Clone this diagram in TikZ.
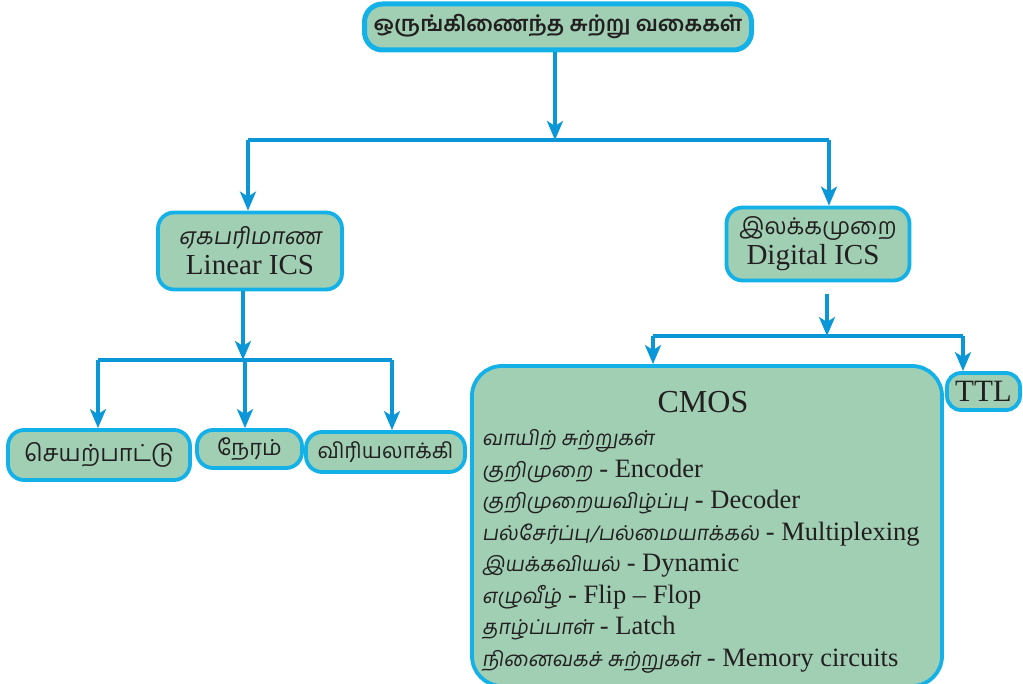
\documentclass[tikz,border=0pt]{standalone}
\usepackage{fontspec}
\setmainfont{Liberation Serif}
\newfontfamily\ta[Script=Tamil]{Hind Madurai}
\newfontfamily\tai[Script=Tamil,FakeSlant=0.15]{Hind Madurai}
\usetikzlibrary{arrows.meta}
\definecolor{bordc}{RGB}{20,176,232}
\definecolor{linec}{RGB}{10,150,215}
\definecolor{fillc}{RGB}{160,207,180}
\definecolor{txtc}{RGB}{35,31,32}
\newcommand{\tl}[1]{{\tai\fontsize{20.5}{26}\selectfont #1}}
\begin{document}
\begin{tikzpicture}[x=1pt,y=-1pt,
  box/.style={draw=bordc, fill=fillc, line width=3.8pt, rounded corners=16pt, inner sep=0pt, text=txtc, align=center},
  arr/.style={draw=linec, line width=3.2pt, -{Stealth[length=19pt,width=16pt,inset=5pt]}},
  ln/.style={draw=linec, line width=3.2pt},
  lat/.style={font=\fontsize{29}{32}\selectfont},
  item/.style={anchor=base west, text=txtc, inner sep=0pt, font=\fontsize{26.5}{30}\selectfont}]
\useasboundingbox (0,0) rectangle (1023,684);
% nodes
\node[box, line width=5pt, rounded corners=18pt, minimum width=387pt, minimum height=46pt,
      font=\ta\bfseries\fontsize{21.5}{26}\selectfont] (top) at (558,27) {ஒருங்கிணைந்த சுற்று வகைகள்};
\node[box, lat, minimum width=184pt, minimum height=77pt] (lin) at (250,251)
  {{\tai\fontsize{23}{26}\selectfont ஏகபரிமாண}\\[-2pt]Linear ICS};
\node[box, lat, minimum width=183pt, minimum height=73pt] (dig) at (818,244)
  {{\ta\fontsize{23}{26}\selectfont இலக்கமுறை}\\[-2pt]Digital ICS\hspace*{10pt}};
\node[box, minimum width=182pt, minimum height=50pt, font=\ta\fontsize{23.5}{28}\selectfont] (s1) at (99,455) {செயற்பாட்டு};
\node[box, minimum width=105pt, minimum height=38pt, font=\ta\fontsize{22}{26}\selectfont] (s2) at (249.5,449) {நேரம்};
\node[box, minimum width=159pt, minimum height=40pt, font=\ta\fontsize{21.5}{26}\selectfont] (s3) at (385.5,452) {விரியலாக்கி};
\node[box, rounded corners=30pt, minimum width=470pt, minimum height=320pt] (cmos) at (707,526) {};
\node[box, lat, minimum width=73pt, minimum height=37pt, rounded corners=14pt, font=\fontsize{31}{34}\selectfont] (ttl) at (983.5,391.5) {TTL};
% CMOS contents
\node[anchor=base, text=txtc, inner sep=0pt, font=\fontsize{32}{36}\selectfont] (ct) at (703,413) {CMOS};
\node[item] (c1) at (482,445.5) {\tl{வாயிற் சுற்றுகள்}};
\node[item] (c2) at (482,477) {\tl{குறிமுறை} - Encoder};
\node[item] (c3) at (482,508.5) {\tl{குறிமுறையவிழ்ப்பு} - Decoder};
\node[item] (c4) at (482,540) {\tl{பல்சேர்ப்பு/பல்மையாக்கல்} - Multiplexing};
\node[item] (c5) at (482,571.5) {\tl{இயக்கவியல்} - Dynamic};
\node[item] (c6) at (482,603) {\tl{எழுவீழ்} - Flip -- Flop};
\node[item] (c7) at (482,634.5) {\tl{தாழ்ப்பாள்} - Latch};
\node[item] (c8) at (482,666) {\tl{நினைவகச் சுற்றுகள்} - Memory circuits};
% connectors level 1
\coordinate (h1) at (555,140);
\coordinate (h1a) at (248,140);
\coordinate (h1b) at (829,140);
\draw[arr] (top.south -| h1) -- (h1);
\draw[ln] (h1a) -- (h1b);
\draw[arr] (h1a) -- (lin.north -| h1a);
\draw[arr] (h1b) -- (dig.north -| h1b);
% connectors level 2 (linear)
\coordinate (h2) at (243,360);
\coordinate (h2a) at (98,360);
\coordinate (h2b) at (245,360);
\coordinate (h2c) at (392,360);
\draw[arr] (lin.south -| h2) -- (h2);
\draw[ln] (h2a) -- (h2c);
\draw[arr] (h2a) -- (s1.north -| h2a);
\draw[arr] (h2b) -- (s2.north -| h2b);
\draw[arr] (h2c) -- (s3.north -| h2c);
% connectors level 2 (digital)
\coordinate (h3) at (827,336);
\coordinate (h3a) at (653,336);
\coordinate (h3b) at (963,336);
\draw[arr, shorten <=12pt] (dig.south -| h3) -- (h3);
\draw[ln] (h3a) -- (h3b);
\draw[arr] (h3a) -- (cmos.north -| h3a);
\draw[arr] (h3b) -- (ttl.north -| h3b);
\end{tikzpicture}
\end{document}
